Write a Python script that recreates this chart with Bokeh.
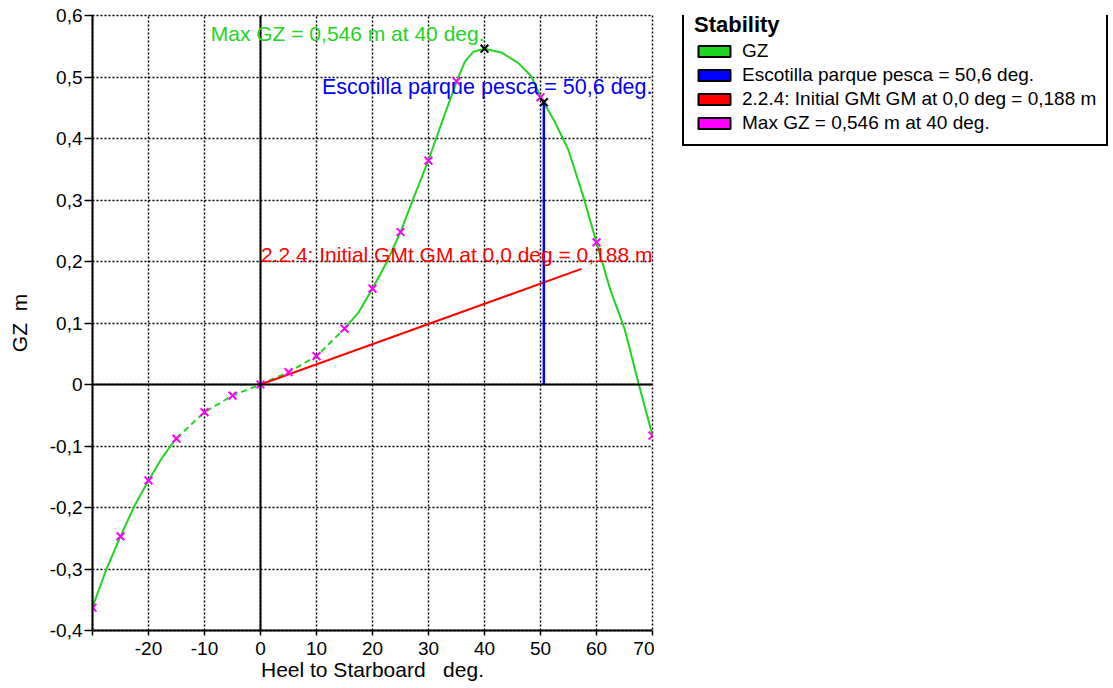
from bokeh.plotting import figure
from bokeh.layouts import row
from bokeh.models import (FixedTicker, Legend, LegendItem, Span, Range1d, Label)
from bokeh.embed import file_html
from bokeh.resources import INLINE

# ---------------- data ----------------
heel = [-30, -27.5, -25, -22.5, -20, -17.5, -15, -10, -5, 0, 5, 10, 15, 17.5, 20,
        22.5, 25, 27.5, 30, 32.5, 35, 36.5, 38, 40, 43, 46, 48.3, 50, 52.5, 55,
        57.5, 60, 62.5, 65, 67.5, 70]
gz = [-0.362, -0.300, -0.247, -0.197, -0.156, -0.118, -0.087, -0.045, -0.018, 0.0,
      0.020, 0.046, 0.091, 0.117, 0.156, 0.198, 0.248, 0.307, 0.365, 0.429, 0.492,
      0.525, 0.541, 0.546, 0.540, 0.523, 0.502, 0.468, 0.428, 0.381, 0.310, 0.231,
      0.153, 0.091, 0.002, -0.083]

mk_heel = [-30, -25, -20, -15, -10, -5, 0, 5, 10, 15, 20, 25, 30, 35, 50, 60, 70]
mk_gz = [-0.363, -0.247, -0.156, -0.088, -0.045, -0.018, 0.0, 0.020, 0.046, 0.091,
         0.156, 0.248, 0.364, 0.493, 0.467, 0.231, -0.083]

max_heel = [40]
max_gz = [0.546]
hatch_heel = [50.6]
hatch_gz = [0.459]
gm_heel = [0, 57.3]
gm_gz = [0, 0.188]

x_ticks = [-30, -20, -10, 0, 10, 20, 30, 40, 50, 60, 70]
x_tick_labels = ["", "-20", "-10", "0", "10", "20", "30", "40", "50", "60", "70"]
y_ticks = [-0.4, -0.3, -0.2, -0.1, 0.0, 0.1, 0.2, 0.3, 0.4, 0.5, 0.6]
y_tick_labels = ["-0,4", "-0,3", "-0,2", "-0,1", "0", "0,1", "0,2", "0,3", "0,4", "0,5", "0,6"]

max_label = "Max GZ = 0,546 m at 40 deg."
hatch_label = "Escotilla parque pesca = 50,6 deg."
gm_label = "2.2.4: Initial GMt GM at 0,0 deg = 0,188 m"
legend_labels = ["GZ", hatch_label, gm_label, max_label]
legend_title = "Stability"
x_title = "Heel to Starboard \u00a0 deg."
y_title = "GZ \u00a0m"

# ---------------- styles ----------------
GREEN = "#22d422"
BLUE = "#0000ff"
RED = "#ff0000"
MAGENTA = "#ff00ff"
FONT = "Liberation Sans"

x_min, x_max = -30, 70
p = figure(width=654, height=688,
           x_range=Range1d(x_min, x_max), y_range=Range1d(-0.4, 0.6),
           output_backend="svg", toolbar_location=None,
           min_border_left=92, min_border_right=2,
           min_border_top=15, min_border_bottom=58,
           x_axis_label=x_title, y_axis_label=y_title)

p.background_fill_color = "white"
p.border_fill_color = "white"
p.outline_line_color = "black"
p.outline_line_width = 1.5
p.outline_line_dash = "2 2"

p.xaxis.ticker = FixedTicker(ticks=x_ticks)
p.yaxis.ticker = FixedTicker(ticks=y_ticks)
p.xaxis.major_label_overrides = dict(zip(x_ticks, x_tick_labels))
p.yaxis.major_label_overrides = dict(zip(y_ticks, y_tick_labels))

for ax in (p.xaxis[0], p.yaxis[0]):
    ax.axis_line_color = "black"
    ax.axis_line_width = 2
    ax.major_tick_line_color = "black"
    ax.major_tick_line_width = 1.5
    ax.major_tick_in = 0
    ax.minor_tick_line_color = None
    ax.major_label_text_font = FONT
    ax.major_label_text_font_size = "19px"
    ax.major_label_text_color = "black"
    ax.axis_label_text_font = FONT
    ax.axis_label_text_font_size = "21px"
    ax.axis_label_text_font_style = "normal"
    ax.axis_label_text_color = "black"

p.xaxis.major_tick_out = 5
p.yaxis.major_tick_out = 8
p.xaxis.major_label_standoff = 6
p.yaxis.major_label_standoff = 2
p.xaxis.axis_label_standoff = 0
p.yaxis.axis_label_standoff = 16

p.grid.grid_line_color = "black"
p.grid.grid_line_width = 1.5
p.grid.grid_line_dash = "2 2"
p.grid.grid_line_alpha = 1.0

# zero lines
p.add_layout(Span(location=0, dimension="width", line_color="black", line_width=2))
p.add_layout(Span(location=0, dimension="height", line_color="black", line_width=2))

# GZ curve: solid outer parts, dashed around zero
lo, hi = -15, 15
seg1 = [(h, g) for h, g in zip(heel, gz) if h <= lo]
seg2 = [(h, g) for h, g in zip(heel, gz) if lo <= h <= hi]
seg3 = [(h, g) for h, g in zip(heel, gz) if h >= hi]
for seg, dash in ((seg1, "solid"), (seg2, "6 4"), (seg3, "solid")):
    p.line([s[0] for s in seg], [s[1] for s in seg], line_color=GREEN,
           line_width=2, line_dash=dash)

# GM line
p.line(gm_heel, gm_gz, line_color=RED, line_width=2)

# hatch (down-flooding) line
p.segment(x0=hatch_heel, y0=[0] * len(hatch_heel), x1=hatch_heel, y1=hatch_gz,
          line_color=BLUE, line_width=2.5)

# markers
p.scatter(mk_heel, mk_gz, marker="x", size=11, line_color=MAGENTA, line_width=2)
p.scatter(max_heel + hatch_heel, max_gz + hatch_gz, marker="x", size=11,
          line_color="black", line_width=2)

# annotation texts
for (lx, ly, txt, col, fs, dy) in (
        (max_heel[0], max_gz[0], max_label, GREEN, "21px", 15),
        (x_max, hatch_gz[0], hatch_label, BLUE, "21.5px", 15),
        (x_max, gm_gz[-1], gm_label, RED, "21px", 14)):
    p.add_layout(Label(x=lx, y=ly, x_units="data", y_units="data", text=txt,
                       text_align="right", text_baseline="alphabetic",
                       y_offset=dy, text_color=col, text_font=FONT,
                       text_font_size=fs))

# ---------------- legend panel ----------------
lg = figure(width=456, height=688, output_backend="svg", toolbar_location=None,
            x_axis_location=None, y_axis_location=None,
            min_border_left=0, min_border_right=0, min_border_top=0,
            min_border_bottom=0)
lg.grid.visible = False
lg.outline_line_color = None
lg.background_fill_color = "white"
lg.border_fill_color = "white"

nan = float("nan")
swatch_colors = [GREEN, BLUE, RED, MAGENTA]
items = []
for lab, col in zip(legend_labels, swatch_colors):
    r = lg.quad(left=[nan], right=[nan], top=[nan], bottom=[nan], fill_color=col,
                line_color="black", line_width=2)
    items.append(LegendItem(label=lab, renderers=[r]))

legend = Legend(items=items, title=legend_title, location=(28, 484),
                border_line_color="black", border_line_width=2,
                border_line_alpha=1.0,
                background_fill_color="white", background_fill_alpha=1.0,
                label_text_font=FONT, label_text_font_size="19px",
                label_text_color="black",
                title_text_font=FONT, title_text_font_size="22px",
                title_text_font_style="bold", title_text_color="black",
                title_standoff=2,
                glyph_width=40, glyph_height=14, label_standoff=8,
                label_height=20, spacing=2, padding=10, margin=0)
lg.add_layout(legend, "center")

layout = row(p, lg, spacing=0)
open("out.html", "w").write(file_html(layout, INLINE))
